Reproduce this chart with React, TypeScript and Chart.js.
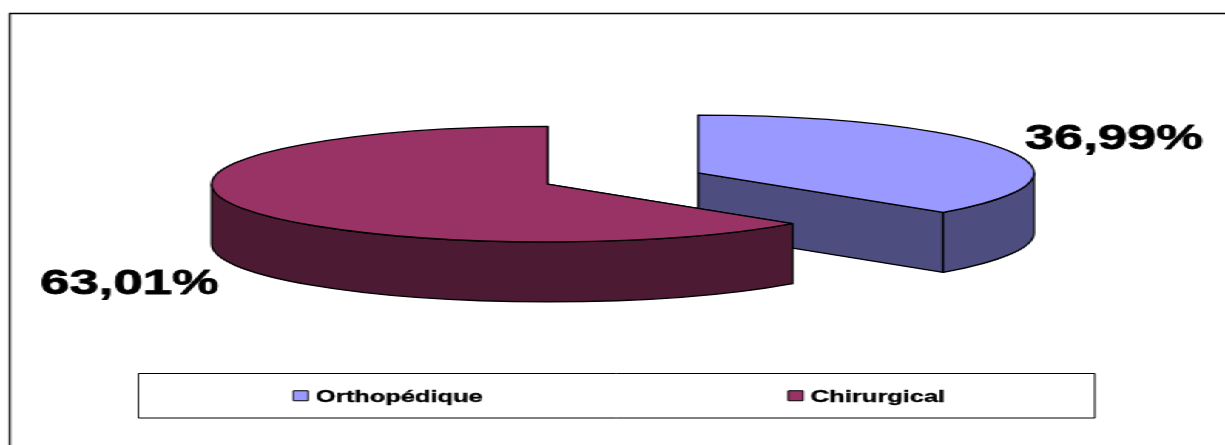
import React, { useEffect, useRef } from "react";
import { Chart, registerables } from "chart.js";

Chart.register(...registerables);

const categories = ["Orthopédique", "Chirurgical"];
const shares = [36.99, 63.01];
const topColors = ["#9999FF", "#993366"];
const sideColors = ["#4D4D80", "#4D1A33"];

// The chart is laid out on a narrower canvas and widened by CSS, so the type
// gets the same wide proportions as the pie.
const CANVAS_W = 828;
const CANVAS_H = 445;
const STRETCH = 1225 / CANVAS_W;

const TILT = 0.2545; // vertical squash of the pie disc
const DEPTH = 60; // height of the extruded wall
const PIE_RADIUS = 227;
const EXPLODE = 55.5;
const FONT = "'Liberation Sans', Arial, sans-serif";

const valueLabelOffsets = [
  { dx: 281, dy: -34 },
  { dx: -282.5, dy: 100.5 },
];
const legendBox = { left: 93.5, top: 373.5, right: 740, bottom: 418 };
const legendSlots = [198.3, 532.8];

function sliceGeometry(arc: any) {
  const { x, y, startAngle, endAngle, outerRadius } = arc.getProps([
    "x",
    "y",
    "startAngle",
    "endAngle",
    "outerRadius",
  ]);
  const mid = (startAngle + endAngle) / 2;
  const offset = arc.options.offset;
  return {
    cx: x + Math.cos(mid) * offset,
    cy: y + Math.sin(mid) * offset * TILT,
    rx: outerRadius,
    ry: outerRadius * TILT,
    start: startAngle,
    end: endAngle,
  };
}

function paint(ctx: CanvasRenderingContext2D, fill: string) {
  ctx.fillStyle = fill;
  ctx.fill();
  ctx.strokeStyle = "#000";
  ctx.lineWidth = 1.3;
  ctx.lineJoin = "round";
  ctx.stroke();
}

// Replaces the flat arcs with a tilted, extruded pie built from the arc elements.
const pie3d = {
  id: "pie3d",
  beforeDatasetsDraw(chart: any) {
    const ctx: CanvasRenderingContext2D = chart.ctx;
    const arcs = chart.getDatasetMeta(0).data;
    arcs.forEach((arc: any, i: number) => {
      const g = sliceGeometry(arc);
      const side = sideColors[i];
      ctx.save();

      // Radial cut faces
      [g.start, g.end].forEach((angle) => {
        const ex = g.cx + Math.cos(angle) * g.rx;
        const ey = g.cy + Math.sin(angle) * g.ry;
        ctx.beginPath();
        ctx.moveTo(g.cx, g.cy);
        ctx.lineTo(ex, ey);
        ctx.lineTo(ex, ey + DEPTH);
        ctx.lineTo(g.cx, g.cy + DEPTH);
        ctx.closePath();
        paint(ctx, side);
      });

      // Outer wall: only the front half of the rim is visible
      const TAU = Math.PI * 2;
      for (const shift of [0, TAU]) {
        const a = Math.max(g.start, shift);
        const b = Math.min(g.end, shift + Math.PI);
        if (b <= a) continue;
        ctx.beginPath();
        ctx.ellipse(g.cx, g.cy, g.rx, g.ry, 0, a, b);
        ctx.ellipse(g.cx, g.cy + DEPTH, g.rx, g.ry, 0, b, a, true);
        ctx.closePath();
        paint(ctx, side);
      }

      // Top face
      ctx.beginPath();
      ctx.moveTo(g.cx, g.cy);
      ctx.ellipse(g.cx, g.cy, g.rx, g.ry, 0, g.start, g.end);
      ctx.closePath();
      paint(ctx, arc.options.backgroundColor);
      ctx.restore();
    });
    return false;
  },
  afterDraw(chart: any) {
    const ctx: CanvasRenderingContext2D = chart.ctx;
    const arcs = chart.getDatasetMeta(0).data;
    ctx.save();

    // Outer frame, open on the right and at the bottom
    ctx.strokeStyle = "#000";
    ctx.lineWidth = 1.4;
    ctx.beginPath();
    ctx.moveTo(6.6, CANVAS_H + 2);
    ctx.lineTo(6.6, 13.5);
    ctx.lineTo(CANVAS_W + 2, 13.5);
    ctx.stroke();

    // Value labels, with a thin outline for extra weight
    ctx.fillStyle = "#000";
    ctx.strokeStyle = "#000";
    ctx.lineJoin = "round";
    ctx.font = `bold 35.5px ${FONT}`;
    ctx.textAlign = "center";
    ctx.textBaseline = "middle";
    ctx.lineWidth = 0.8;
    arcs.forEach((arc: any, i: number) => {
      const g = sliceGeometry(arc);
      const text = `${shares[i].toFixed(2).replace(".", ",")}%`;
      const tx = g.cx + valueLabelOffsets[i].dx;
      const ty = g.cy + valueLabelOffsets[i].dy;
      ctx.fillText(text, tx, ty);
      ctx.strokeText(text, tx, ty);
    });

    // Legend panel
    ctx.lineWidth = 1;
    ctx.strokeRect(
      legendBox.left,
      legendBox.top,
      legendBox.right - legendBox.left,
      legendBox.bottom - legendBox.top,
    );
    const midY = (legendBox.top + legendBox.bottom) / 2;
    ctx.font = `bold 17.2px ${FONT}`;
    ctx.textAlign = "left";
    (chart.legend?.legendItems ?? []).forEach((item: any, i: number) => {
      const x = legendSlots[i];
      ctx.lineWidth = 1;
      ctx.fillStyle = item.fillStyle;
      ctx.fillRect(x, midY - 5, 10, 10);
      ctx.strokeRect(x, midY - 5, 10, 10);
      ctx.fillStyle = "#000";
      ctx.lineWidth = 0.35;
      ctx.fillText(item.text, x + 15.3, midY + 1.5);
      ctx.strokeText(item.text, x + 15.3, midY + 1.5);
    });
    ctx.restore();
  },
};

export default function App() {
  const canvasRef = useRef<HTMLCanvasElement>(null);

  useEffect(() => {
    const chart = new Chart(canvasRef.current as HTMLCanvasElement, {
      type: "pie",
      data: {
        labels: categories,
        datasets: [
          {
            data: shares,
            backgroundColor: topColors,
            borderWidth: 0,
            offset: EXPLODE,
            radius: PIE_RADIUS,
          } as any,
        ],
      },
      options: {
        responsive: false,
        animation: false,
        devicePixelRatio: 1,
        layout: { padding: { left: 14, right: 0, top: 14, bottom: 102 } },
        plugins: {
          legend: { display: false },
          tooltip: { enabled: false },
        },
      },
      plugins: [pie3d],
    });
    return () => chart.destroy();
  }, []);

  return (
    <div
      style={{
        position: "absolute",
        left: 0,
        top: 0,
        width: CANVAS_W,
        height: CANVAS_H,
        transform: `scaleX(${STRETCH})`,
        transformOrigin: "0 0",
        background: "#fff",
      }}
    >
      <canvas ref={canvasRef} width={CANVAS_W} height={CANVAS_H} style={{ display: "block" }} />
    </div>
  );
}
